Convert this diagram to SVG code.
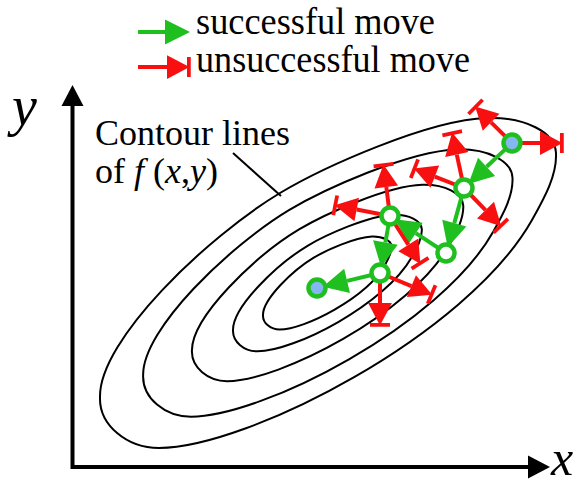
<svg xmlns="http://www.w3.org/2000/svg" xmlns:xlink="http://www.w3.org/1999/xlink" width="584" height="486" viewBox="0 0 584 486">
<style>
.contour{fill:none;stroke:#000;stroke-width:2;vector-effect:non-scaling-stroke}
.axis{fill:none;stroke:#000;stroke-width:4}
.good{fill:none;stroke:#1fbf1f;stroke-width:4;marker-end:url(#gh)}
.bad{fill:none;stroke:#f81010;stroke-width:4;marker-end:url(#rh)}
.node{stroke:#1fbf1f;stroke-width:4.5}
.open{fill:#fff}
.ends{fill:#84b6ef}
.serif{font-family:"Liberation Serif","Times New Roman",serif;fill:#000}
.it{font-style:italic}
</style>
<defs>
<marker id="gh" markerUnits="userSpaceOnUse" markerWidth="30" markerHeight="30" viewBox="0 -12 22 24" refX="0" refY="0" orient="auto" overflow="visible">
<path d="M0,-10 L20,0 L0,10 Z" fill="#1fbf1f"/>
</marker>
<marker id="rh" markerUnits="userSpaceOnUse" markerWidth="30" markerHeight="30" viewBox="0 -12 22 24" refX="0" refY="0" orient="auto" overflow="visible">
<path d="M0,-9.5 L18,0 L0,9.5 Z" fill="#f81010"/>
<rect x="16" y="-8" width="3" height="16" fill="#f81010"/>
</marker>
<path id="egg" class="contour" d="M-227,117 C-228,145 -200,168 -168,168 C-80,168 140,55 205,-60 C218,-83 230,-105 229,-127 C228,-148 198,-163 160,-162 C100,-160 -5,-112 -47,-87 C-120,-43 -228,60 -227,117 Z"/>
</defs>

<g id="legend">
<line class="good" x1="138" y1="32" x2="165" y2="32"/>
<text class="serif" x="196" y="34" font-size="37" textLength="239" lengthAdjust="spacingAndGlyphs">successful move</text>
<line class="bad" x1="138" y1="67" x2="167" y2="67"/>
<text class="serif" x="196" y="72" font-size="37" textLength="274" lengthAdjust="spacingAndGlyphs">unsuccessful move</text>
</g>

<g id="axes">
<path class="axis" d="M72.5,104 V467 H529"/>
<polygon points="72.5,85 61.5,106 83.5,106" fill="#000"/>
<polygon points="550,467 528,455.5 528,478.5" fill="#000"/>
<text class="serif it" x="12" y="125" font-size="56">y</text>
<text class="serif it" x="551" y="475" font-size="50">x</text>
</g>

<g id="contours">
<use xlink:href="#egg" transform="translate(327,280) scale(1)"/>
<use xlink:href="#egg" transform="translate(327,280.6) scale(0.81)"/>
<use xlink:href="#egg" transform="translate(327,281.2) scale(0.595)"/>
<use xlink:href="#egg" transform="translate(327,281.8) scale(0.414)"/>
<use xlink:href="#egg" transform="translate(327,282.2) scale(0.282)"/>
</g>

<g id="contour-label">
<text class="serif" x="95" y="145" font-size="36">Contour lines</text>
<text class="serif" x="95" y="183" font-size="36">of <tspan class="it">f</tspan> (<tspan class="it">x</tspan>,<tspan class="it">y</tspan>)</text>
<line x1="233" y1="153" x2="281" y2="196" stroke="#000" stroke-width="2"/>
</g>

<g id="connectors">
<line class="good" x1="512" y1="143" x2="486.6" y2="166.8"/>
<line class="good" x1="464" y1="188" x2="454.3" y2="223.1"/>
<line class="good" x1="446" y1="253" x2="415.8" y2="233.1"/>
<line class="good" x1="390" y1="216" x2="385.4" y2="242.5"/>
<line class="good" x1="380" y1="273" x2="347.1" y2="280.9"/>
<line class="bad" x1="512" y1="143" x2="491.1" y2="122.3"/>
<line class="bad" x1="512" y1="143" x2="540" y2="143"/>
<line class="bad" x1="464" y1="188" x2="456.8" y2="154.6"/>
<line class="bad" x1="464" y1="188" x2="434.8" y2="176.6"/>
<line class="bad" x1="464" y1="188" x2="485.5" y2="210.1"/>
<line class="bad" x1="390" y1="216" x2="386.3" y2="186.9"/>
<line class="bad" x1="390" y1="216" x2="356.7" y2="209.5"/>
<line class="bad" x1="390" y1="216" x2="408.3" y2="244.8"/>
<line class="bad" x1="380" y1="273" x2="380" y2="303"/>
<line class="bad" x1="380" y1="273" x2="411.4" y2="286.1"/>
</g>

<g id="node-start"><circle class="node ends" cx="512" cy="143" r="8.5"/></g>
<g id="node-2"><circle class="node open" cx="464" cy="188" r="8.5"/></g>
<g id="node-3"><circle class="node open" cx="446" cy="253" r="8.5"/></g>
<g id="node-4"><circle class="node open" cx="390" cy="216" r="8.5"/></g>
<g id="node-5"><circle class="node open" cx="380" cy="273" r="8.5"/></g>
<g id="node-end"><circle class="node ends" cx="317" cy="288" r="8.5"/></g>
</svg>
